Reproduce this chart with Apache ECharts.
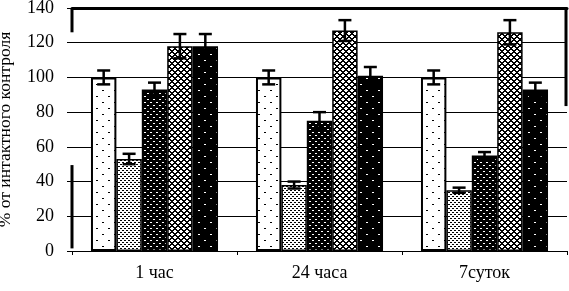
<!DOCTYPE html>
<html>
<head>
<meta charset="utf-8">
<script src="https://cdn.jsdelivr.net/npm/echarts@6/dist/echarts.min.js"></script>
<style>
  html, body { margin: 0; padding: 0; background: #fff; }
  #chart { width: 569px; height: 291px; }
</style>
</head>
<body>
<div id="chart"></div>
<script>
// values, % of intact control
const categories = ['1 час', '24 часа', '7суток'];
const groupA = [100, 100, 100];
const groupB = [53, 38, 35];
const groupC = [93, 75, 55];
const groupD = [118, 127, 126];
const groupE = [118, 101, 93];
const errA = [4, 4, 4];
const errB = [3, 2, 1.5];
const errC = [4, 5, 2];
const errD = [7, 6, 7];
const errE = [7, 5, 4];

const FONT = '"Times New Roman", "Liberation Serif", "DejaVu Serif", serif';
const GAP = 0.23; // barCategoryGap

// small canvas tiles for the hatch fills
function makeTile(w, h, bg, fg, pix) {
  const c = document.createElement('canvas');
  c.width = w;
  c.height = h;
  const ctx = c.getContext('2d');
  ctx.fillStyle = bg;
  ctx.fillRect(0, 0, w, h);
  ctx.fillStyle = fg;
  pix.forEach((p) => ctx.fillRect(p[0], p[1], p[2], p[3]));
  return c;
}

function crossTile() {
  const pix = [];
  for (let y = 0; y < 6; y += 1) {
    for (let x = 0; x < 6; x += 1) {
      if ((x + y) % 6 < 2 || (x - y + 12) % 6 < 2) pix.push([x, y, 1, 1]);
    }
  }
  return makeTile(6, 6, '#fff', '#000', pix);
}

const fills = [
  makeTile(12, 12, '#fff', '#000', [[0, 0, 2, 1], [6, 6, 2, 1]]),
  makeTile(4, 4, '#fff', '#000', [[0, 0, 2, 1], [2, 2, 2, 1]]),
  makeTile(6, 6, '#000', '#fff', [[0, 0, 2, 1], [3, 3, 2, 1]]),
  crossTile(),
  makeTile(12, 12, '#000', '#fff', [[0, 0, 2, 1], [6, 6, 2, 1]]),
];

function barSeries(idx, values) {
  return {
    type: 'bar',
    data: values,
    barGap: 0,
    barCategoryGap: GAP * 100 + '%',
    itemStyle: {
      color: { image: fills[idx], repeat: 'repeat' },
      borderColor: '#000',
      borderWidth: idx === 0 ? 2 : 1.5,
    },
    z: 2,
  };
}

function errorSeries(idx, values, errs) {
  return {
    type: 'custom',
    z: 10,
    encode: { x: 0, y: 1 },
    data: values.map((v, i) => [i, v, errs[i]]),
    renderItem: (params, api) => {
      const ci = api.value(0);
      const v = api.value(1);
      const e = api.value(2);
      const band = api.size([1, 0])[0];
      const bw = band * (1 - GAP) / 5;
      const cx = api.coord([ci, v])[0] + (idx - 2) * bw;
      const top = api.coord([ci, v + e])[1];
      const bot = api.coord([ci, v - e])[1];
      const cap = 6.5;
      const style = { stroke: '#000', lineWidth: 2.5, fill: null };
      return {
        type: 'group',
        children: [
          { type: 'line', shape: { x1: cx, y1: top, x2: cx, y2: bot }, style },
          { type: 'line', shape: { x1: cx - cap, y1: top, x2: cx + cap, y2: top }, style },
          { type: 'line', shape: { x1: cx - cap, y1: bot, x2: cx + cap, y2: bot }, style },
        ],
      };
    },
  };
}

const chart = echarts.init(document.getElementById('chart'), null, { renderer: 'canvas' });

chart.setOption({
  animation: false,
  backgroundColor: '#fff',
  textStyle: { fontFamily: FONT },
  grid: { left: 72, right: 2, top: 8, bottom: 40, outerBoundsMode: 'none', containLabel: false },
  xAxis: [
    {
      type: 'category',
      data: categories,
      axisLine: { lineStyle: { color: '#000', width: 1 } },
      axisTick: { show: true, length: 4, lineStyle: { color: '#000' } },
      axisLabel: { color: '#000', fontFamily: FONT, fontSize: 18, margin: 13 },
    },
    {
      type: 'category',
      position: 'top',
      data: categories,
      axisLine: { lineStyle: { color: '#000', width: 3 } },
      axisTick: { show: false },
      axisLabel: { show: false },
    },
  ],
  yAxis: {
    type: 'value',
    min: 0,
    max: 140,
    interval: 20,
    name: '% от интактного контроля',
    nameLocation: 'middle',
    nameGap: 58,
    nameTextStyle: { color: '#000', fontFamily: FONT, fontSize: 17.5 },
    axisLine: { show: false },
    axisTick: { show: true, length: 5, lineStyle: { color: '#000' } },
    axisLabel: { color: '#000', fontFamily: FONT, fontSize: 18, margin: 18 },
    splitLine: { lineStyle: { color: '#000', width: 1 } },
  },
  series: [
    barSeries(0, groupA),
    barSeries(1, groupB),
    barSeries(2, groupC),
    barSeries(3, groupD),
    barSeries(4, groupE),
    errorSeries(0, groupA, errA),
    errorSeries(1, groupB, errB),
    errorSeries(2, groupC, errC),
    errorSeries(3, groupD, errD),
    errorSeries(4, groupE, errE),
  ],
});

// frame fragments (left axis pieces and the right edge), placed from the axes
const c0 = chart.convertToPixel({ xAxisIndex: 0 }, 0);
const c2 = chart.convertToPixel({ xAxisIndex: 0 }, 2);
const band = (c2 - c0) / 2;
const leftX = c0 - band / 2;
const rightX = c2 + band / 2;
const py = (v) => chart.convertToPixel({ yAxisIndex: 0 }, v);
const frame = { stroke: '#000', lineWidth: 3 };

chart.setOption({
  graphic: [
    { type: 'line', z: 20, shape: { x1: leftX, y1: py(140), x2: leftX, y2: py(126) }, style: frame },
    { type: 'line', z: 20, shape: { x1: leftX, y1: py(49.5), x2: leftX, y2: py(1.5) }, style: frame },
    { type: 'line', z: 20, shape: { x1: rightX - 1, y1: py(140), x2: rightX - 1, y2: py(83.5) }, style: frame },
  ],
});
</script>
</body>
</html>
